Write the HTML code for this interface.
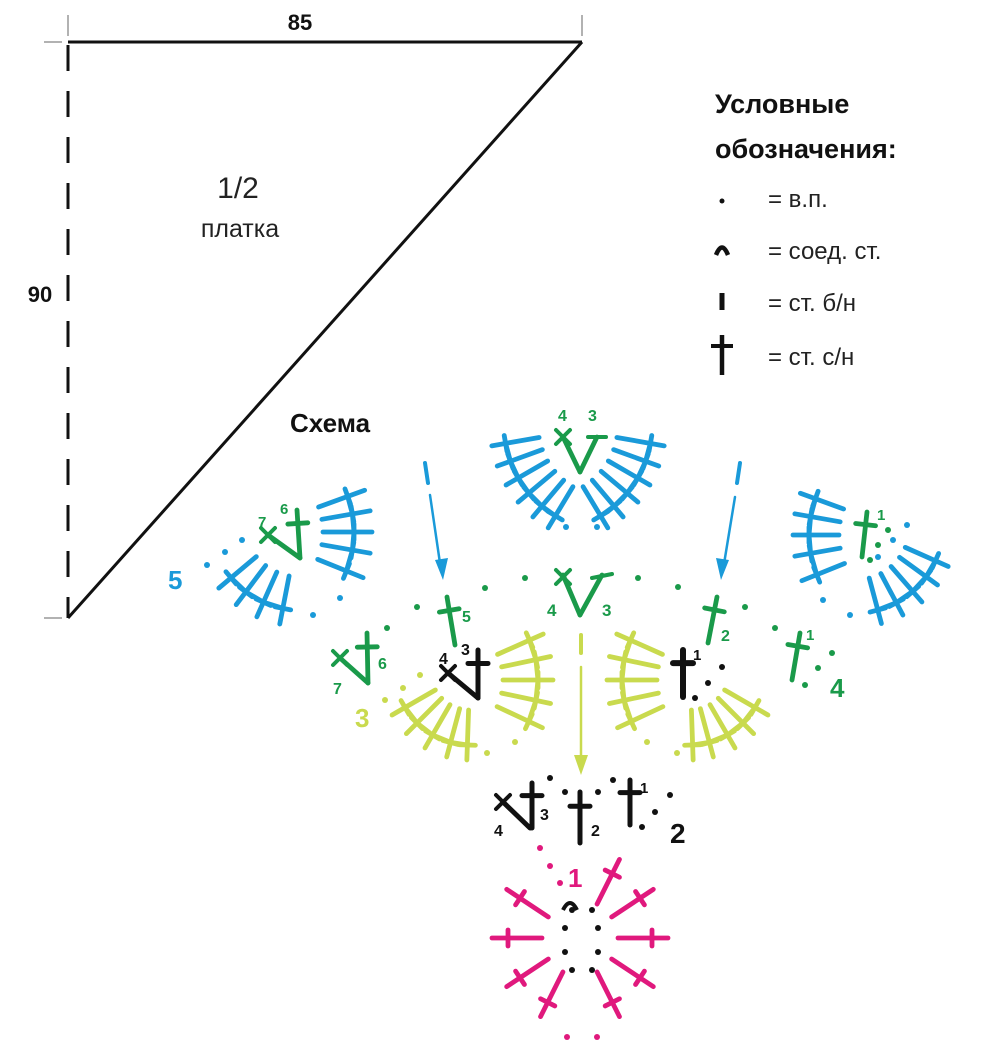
<!DOCTYPE html>
<html><head><meta charset="utf-8"><style>
html,body{margin:0;padding:0;background:#fff;}
svg{display:block;}
text{font-family:"Liberation Sans",sans-serif;}
</style></head><body>
<svg id="s" width="1000" height="1062" viewBox="0 0 1000 1062" xmlns="http://www.w3.org/2000/svg">
<rect width="1000" height="1062" fill="#fff"/>
<!-- triangle -->
<line x1="68" y1="42" x2="582" y2="42" stroke="#111" stroke-width="3"/>
<line x1="582" y1="42" x2="68" y2="618" stroke="#111" stroke-width="3"/>
<line x1="68" y1="45" x2="68" y2="618" stroke="#111" stroke-width="3" stroke-dasharray="26,20"/>
<line x1="44" y1="42" x2="62" y2="42" stroke="#999" stroke-width="1.5"/>
<line x1="44" y1="618" x2="62" y2="618" stroke="#999" stroke-width="1.5"/>
<line x1="68" y1="15" x2="68" y2="36" stroke="#999" stroke-width="1.5"/>
<line x1="582" y1="15" x2="582" y2="36" stroke="#999" stroke-width="1.5"/>
<text x="300" y="30" font-size="22" font-weight="bold" text-anchor="middle" fill="#111">85</text>
<text x="40" y="302" font-size="22" font-weight="bold" text-anchor="middle" fill="#111">90</text>
<text x="238" y="198" font-size="30" text-anchor="middle" fill="#222">1/2</text>
<text x="240" y="237" font-size="25" text-anchor="middle" fill="#222">платка</text>
<!-- legend -->
<text x="715" y="113" font-size="27" font-weight="bold" fill="#111">Условные</text>
<text x="715" y="158" font-size="27" font-weight="bold" fill="#111">обозначения:</text>
<circle cx="722" cy="201" r="2.5" fill="#111"/>
<text x="768" y="207" font-size="24" fill="#222">= в.п.</text>
<path d="M716 255 Q722 240 728 255" stroke="#111" stroke-width="4.5" fill="none"/>
<text x="768" y="259" font-size="24" fill="#222">= соед. ст.</text>
<line x1="722" y1="293" x2="722" y2="310" stroke="#111" stroke-width="5"/>
<text x="768" y="311" font-size="24" fill="#222">= ст. б/н</text>
<line x1="722" y1="335" x2="722" y2="375" stroke="#111" stroke-width="4.5"/>
<line x1="711" y1="346" x2="733" y2="346" stroke="#111" stroke-width="4"/>
<text x="768" y="365" font-size="24" fill="#222">= ст. с/н</text>
<text x="290" y="432" font-size="26" font-weight="bold" fill="#111">Схема</text>
<g id="g"></g>
<!-- labels -->
<g font-weight="bold">
<text x="168" y="589" font-size="26" fill="#1a9ad9">5</text>
<text x="830" y="697" font-size="26" fill="#1a9a4a">4</text>
<text x="355" y="727" font-size="26" fill="#c9da4e">3</text>
<text x="670" y="843" font-size="28" fill="#111">2</text>
<text x="558" y="421" font-size="16" fill="#1a9a4a">4</text>
<text x="588" y="421" font-size="16" fill="#1a9a4a">3</text>
<text x="258" y="527" font-size="15" fill="#1a9a4a">7</text>
<text x="280" y="514" font-size="15" fill="#1a9a4a">6</text>
<text x="877" y="520" font-size="15" fill="#1a9a4a">1</text>
<text x="547" y="616" font-size="17" fill="#1a9a4a">4</text>
<text x="602" y="616" font-size="17" fill="#1a9a4a">3</text>
<text x="462" y="622" font-size="16" fill="#1a9a4a">5</text>
<text x="378" y="669" font-size="16" fill="#1a9a4a">6</text>
<text x="333" y="694" font-size="16" fill="#1a9a4a">7</text>
<text x="721" y="641" font-size="16" fill="#1a9a4a">2</text>
<text x="806" y="640" font-size="15" fill="#1a9a4a">1</text>
<text x="439" y="664" font-size="16" fill="#111">4</text>
<text x="461" y="655" font-size="16" fill="#111">3</text>
<text x="693" y="660" font-size="15" fill="#111">1</text>
<text x="540" y="820" font-size="16" fill="#111">3</text>
<text x="494" y="836" font-size="16" fill="#111">4</text>
<text x="591" y="836" font-size="16" fill="#111">2</text>
<text x="640" y="793" font-size="15" fill="#111">1</text>
<text x="568" y="887" font-size="26" fill="#e0197d">1</text>
</g>
</svg>
<script>
(function(){
var g=document.getElementById('g'),h='';
var B='#1a9ad9',G='#1a9a4a',L='#c9da4e',K='#111',M='#e0197d';
function ln(x1,y1,x2,y2,c,w){h+='<line x1="'+x1+'" y1="'+y1+'" x2="'+x2+'" y2="'+y2+'" stroke="'+c+'" stroke-width="'+(w||4.8)+'" stroke-linecap="round"/>';}
function dot(x,y,c){h+='<circle cx="'+x+'" cy="'+y+'" r="3" fill="'+c+'"/>';}
function fan(cx,cy,angs,r1,r2,rc,c,sy){sy=sy||1;var pts=[];angs.forEach(function(a){var t=a*Math.PI/180,co=Math.cos(t),si=Math.sin(t)*sy;var n=Math.sqrt(co*co+si*si);co/=n;si/=n;
ln(cx+r1*co,cy+r1*si,cx+r2*co,cy+r2*si,c);var px=cx+rc*co,py=cy+rc*si;pts.push(px.toFixed(1)+','+py.toFixed(1));ln(px-8*si,py+8*co,px+8*si,py-8*co,c);});
return pts;}
function arc(pts,c){h+='<polyline points="'+pts.join(' ')+'" fill="none" stroke="'+c+'" stroke-width="4.8" stroke-linecap="round"/>';}
function tr(x1,y1,x2,y2,c,w){
 ln(x1,y1,x2,y2,c,w);var cx=x1+(x2-x1)*0.28,cy=y1+(y2-y1)*0.28;var dx=x2-x1,dy=y2-y1,n=Math.hypot(dx,dy);ln(cx-10*dy/n,cy+10*dx/n,cx+10*dy/n,cy-10*dx/n,c,w);}
function xx(x,y,c){ln(x-7,y-7,x+7,y+7,c,4);ln(x-7,y+7,x+7,y-7,c,4);}
arc(fan(610,425,[170,160,150,140,130,121],72,120,106,B),B);
arc(fan(546,425,[10,20,30,40,50,59],72,120,106,B),B);
arc(fan(250,532,[-20,-10,0,10,22],73,122,104,B),B);
arc(fan(300,520,[140,127,114,101],57,106,90,B),B);
arc(fan(915,535,[200,190,180,170,158],76,122,106,B),B);
arc(fan(855,525,[75,62,49,36,24],55,102,88,B),B);
arc(fan(440,680,[-24,-12,0,12,25],63,113,98,L),L);
arc(fan(470,670,[150,135,120,105,92],40,90,75,L),L);
arc(fan(720,680,[204,192,180,168,155],63,113,98,L),L);
arc(fan(690,670,[30,45,60,75,88],40,90,75,L),L);
fan(580,938,[0,30,60,120,150,180,210,300,330],38,88,72,M,1.15);
ln(563,437,580,472,G);ln(597,437,580,472,G);xx(563,437,G);ln(588,437,606,437,G,4);
ln(268,535,300,558,G);tr(297,510,300,558,G);xx(268,535,G);
ln(563,575,580,615,G);ln(602,575,580,615,G);xx(563,577,G);ln(592,578,612,574,G,4);
ln(340,658,368,683,G);tr(367,633,368,683,G);xx(340,658,G);
tr(867,512,862,557,G);tr(447,597,455,645,G);tr(717,597,708,643,G);tr(800,633,792,680,G);
ln(448,673,478,698,K,5);tr(478,650,478,698,K,5);xx(448,673,K);
tr(683,650,683,697,K,6);
ln(503,802,530,828,K,5);tr(532,783,532,828,K,5);xx(503,802,K);
tr(580,792,580,843,K,5);tr(630,780,630,825,K,5);
h+='<path d="M563 910 Q570 896 577 910" stroke="#111" stroke-width="4" fill="none"/>';
[[313,615],[340,598],[566,527],[597,527],[207,565],[225,552],[242,540],[907,525],[893,540],[878,557],[823,600],[850,615]].forEach(function(p){dot(p[0],p[1],B);});
[[417,607],[485,588],[525,578],[638,578],[678,587],[745,607],[775,628],[832,653],[818,668],[805,685],[387,628],[888,530],[878,545],[870,560]].forEach(function(p){dot(p[0],p[1],G);});
[[420,675],[403,688],[385,700],[487,753],[515,742],[647,742],[677,753]].forEach(function(p){dot(p[0],p[1],L);});
[[722,667],[708,683],[695,698],[550,778],[565,792],[598,792],[613,780],[670,795],[655,812],[642,827],[572,910],[592,910],[565,928],[598,928],[565,952],[598,952],[572,970],[592,970]].forEach(function(p){dot(p[0],p[1],K);});
[[540,848],[550,866],[560,883],[567,1037],[597,1037]].forEach(function(p){dot(p[0],p[1],M);});
ln(425,463,428,483,B,4);ln(430,495,441,570,B,2.5);h+='<polygon points="443,580 435,560 448,558" fill="'+B+'"/>';
ln(740,463,737,483,B,4);ln(735,497,723,570,B,2.5);h+='<polygon points="721,580 716,558 729,560" fill="'+B+'"/>';
ln(581,635,581,653,L,4);ln(581,667,581,765,L,2.5);h+='<polygon points="581,775 574,755 588,755" fill="'+L+'"/>';
g.innerHTML=h;
})();
</script>
</body></html>
